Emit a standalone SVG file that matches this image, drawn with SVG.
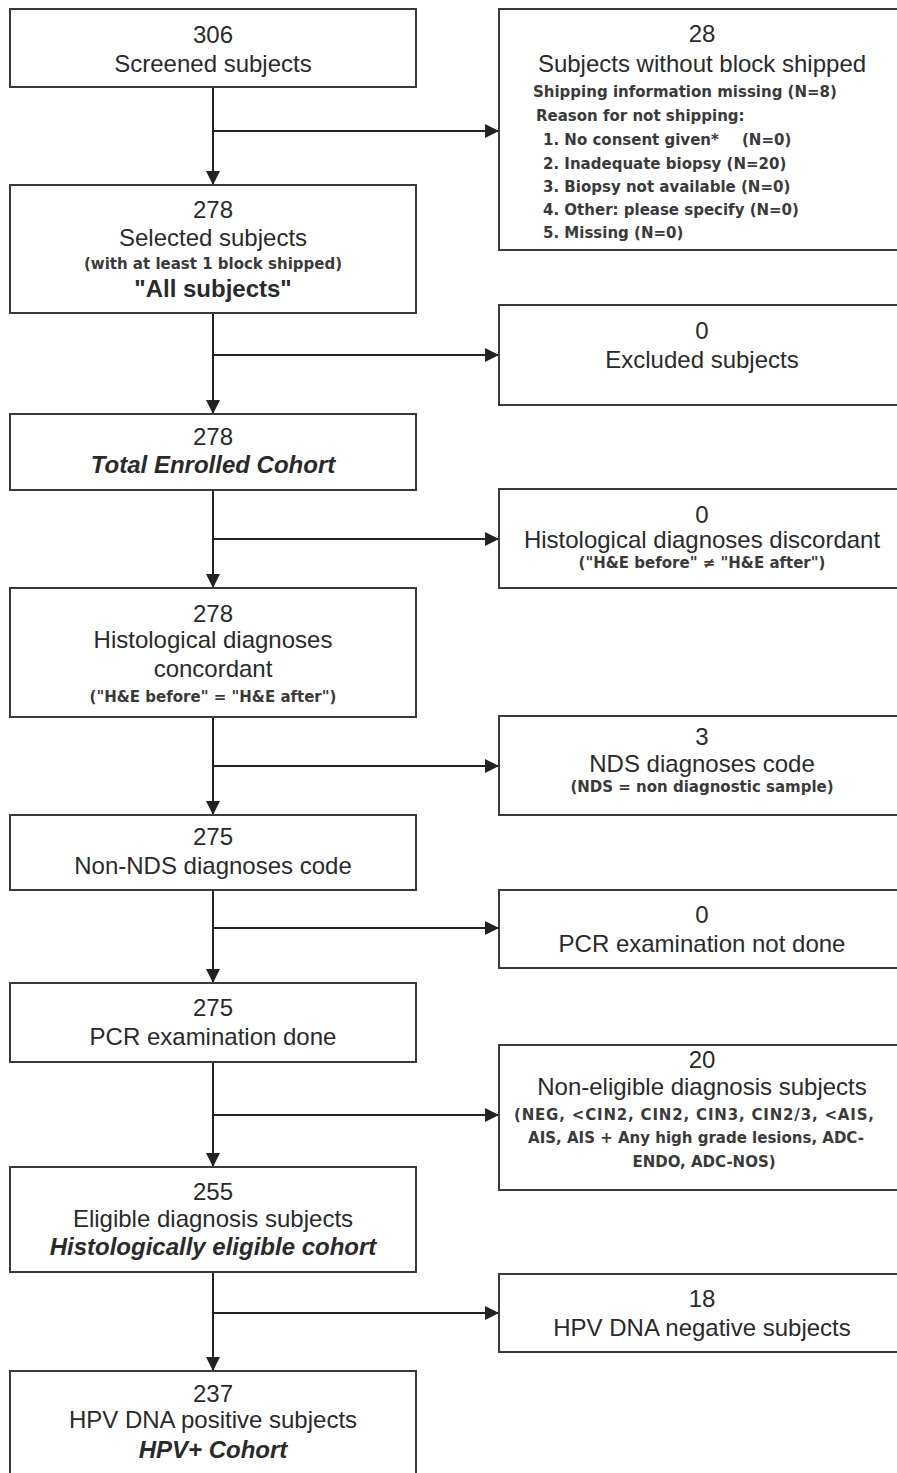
<svg xmlns="http://www.w3.org/2000/svg" width="897" height="1473" viewBox="0 0 897 1473">
<style>
.box{fill:#fff;stroke:#3a3a3a;stroke-width:2}
.t{font-family:"Liberation Sans",Arial,sans-serif;font-size:24px;fill:#2a2a2a;text-anchor:middle}
.b{font-weight:bold}
.bi{font-weight:bold;font-style:italic}
.s{font-family:"DejaVu Sans",Verdana,sans-serif;font-size:15px;font-weight:bold;fill:#3a3a3a}
.m{text-anchor:middle}
.c{stroke:#222;stroke-width:2;fill:none}
</style>
<defs>
<marker id="ah" viewBox="0 0 14 14" refX="14" refY="7" markerWidth="14" markerHeight="14" orient="auto" markerUnits="userSpaceOnUse">
<path d="M0,0 L14,7 L0,14 z" fill="#222"/>
</marker>
</defs>
<rect width="897" height="1473" fill="#fff"/>

<g id="connectors">
<path class="c" d="M213,87 V185" marker-end="url(#ah)"/>
<path class="c" d="M213,131 H499" marker-end="url(#ah)"/>
<path class="c" d="M213,313 V414" marker-end="url(#ah)"/>
<path class="c" d="M213,355 H499" marker-end="url(#ah)"/>
<path class="c" d="M213,490 V588" marker-end="url(#ah)"/>
<path class="c" d="M213,539 H499" marker-end="url(#ah)"/>
<path class="c" d="M213,717 V815" marker-end="url(#ah)"/>
<path class="c" d="M213,766 H499" marker-end="url(#ah)"/>
<path class="c" d="M213,890 V983" marker-end="url(#ah)"/>
<path class="c" d="M213,928 H499" marker-end="url(#ah)"/>
<path class="c" d="M213,1062 V1167" marker-end="url(#ah)"/>
<path class="c" d="M213,1115 H499" marker-end="url(#ah)"/>
<path class="c" d="M213,1272 V1371" marker-end="url(#ah)"/>
<path class="c" d="M213,1313 H499" marker-end="url(#ah)"/>
</g>

<g id="screened">
<rect class="box" x="10" y="9" width="406" height="78"/>
<text class="t" x="213" y="43">306</text>
<text class="t" x="213" y="72">Screened subjects</text>
</g>

<g id="without-block">
<rect class="box" x="499" y="9" width="406" height="241"/>
<text class="t" x="702" y="42">28</text>
<text class="t" x="702" y="72">Subjects without block shipped</text>
<text class="s" x="533" y="97">Shipping information missing (N=8)</text>
<text class="s" x="536" y="121">Reason for not shipping:</text>
<text class="s" x="543" y="145">1. No consent given*</text>
<text class="s" x="742" y="145">(N=0)</text>
<text class="s" x="543" y="169">2. Inadequate biopsy (N=20)</text>
<text class="s" x="543" y="192">3. Biopsy not available (N=0)</text>
<text class="s" x="543" y="215">4. Other: please specify (N=0)</text>
<text class="s" x="543" y="238">5. Missing (N=0)</text>
</g>

<g id="selected">
<rect class="box" x="10" y="185" width="406" height="128"/>
<text class="t" x="213" y="218">278</text>
<text class="t" x="213" y="246">Selected subjects</text>
<text class="s m" x="213" y="269">(with at least 1 block shipped)</text>
<text class="t b" x="213" y="297">"All subjects"</text>
</g>

<g id="excluded">
<rect class="box" x="499" y="305" width="406" height="100"/>
<text class="t" x="702" y="339">0</text>
<text class="t" x="702" y="368">Excluded subjects</text>
</g>

<g id="enrolled">
<rect class="box" x="10" y="414" width="406" height="76"/>
<text class="t" x="213" y="445">278</text>
<text class="t bi" x="213" y="473">Total Enrolled Cohort</text>
</g>

<g id="discordant">
<rect class="box" x="499" y="489" width="406" height="99"/>
<text class="t" x="702" y="523">0</text>
<text class="t" x="702" y="548">Histological diagnoses discordant</text>
<text class="s m" x="702" y="568">("H&amp;E before" ≠ "H&amp;E after")</text>
</g>

<g id="concordant">
<rect class="box" x="10" y="588" width="406" height="129"/>
<text class="t" x="213" y="622">278</text>
<text class="t" x="213" y="648">Histological diagnoses</text>
<text class="t" x="213" y="677">concordant</text>
<text class="s m" x="213" y="702">("H&amp;E before" = "H&amp;E after")</text>
</g>

<g id="nds">
<rect class="box" x="499" y="716" width="406" height="99"/>
<text class="t" x="702" y="745">3</text>
<text class="t" x="702" y="772">NDS diagnoses code</text>
<text class="s m" x="702" y="792">(NDS = non diagnostic sample)</text>
</g>

<g id="non-nds">
<rect class="box" x="10" y="815" width="406" height="75"/>
<text class="t" x="213" y="845">275</text>
<text class="t" x="213" y="874">Non-NDS diagnoses code</text>
</g>

<g id="pcr-not-done">
<rect class="box" x="499" y="890" width="406" height="78"/>
<text class="t" x="702" y="923">0</text>
<text class="t" x="702" y="952">PCR examination not done</text>
</g>

<g id="pcr-done">
<rect class="box" x="10" y="983" width="406" height="79"/>
<text class="t" x="213" y="1016">275</text>
<text class="t" x="213" y="1045">PCR examination done</text>
</g>

<g id="non-eligible">
<rect class="box" x="499" y="1045" width="406" height="145"/>
<text class="t" x="702" y="1068">20</text>
<text class="t" x="702" y="1095">Non-eligible diagnosis subjects</text>
<text class="s m" x="694" y="1120" textLength="360" lengthAdjust="spacing">(NEG, &lt;CIN2, CIN2, CIN3, CIN2/3, &lt;AIS,</text>
<text class="s m" x="696" y="1143">AIS, AIS + Any high grade lesions, ADC-</text>
<text class="s m" x="704" y="1167">ENDO, ADC-NOS)</text>
</g>

<g id="eligible">
<rect class="box" x="10" y="1167" width="406" height="105"/>
<text class="t" x="213" y="1200">255</text>
<text class="t" x="213" y="1227">Eligible diagnosis subjects</text>
<text class="t bi" x="213" y="1255">Histologically eligible cohort</text>
</g>

<g id="hpv-negative">
<rect class="box" x="499" y="1274" width="406" height="78"/>
<text class="t" x="702" y="1307">18</text>
<text class="t" x="702" y="1336">HPV DNA negative subjects</text>
</g>

<g id="hpv-positive">
<rect class="box" x="10" y="1371" width="406" height="120"/>
<text class="t" x="213" y="1402">237</text>
<text class="t" x="213" y="1428">HPV DNA positive subjects</text>
<text class="t bi" x="213" y="1458">HPV+ Cohort</text>
</g>
</svg>
